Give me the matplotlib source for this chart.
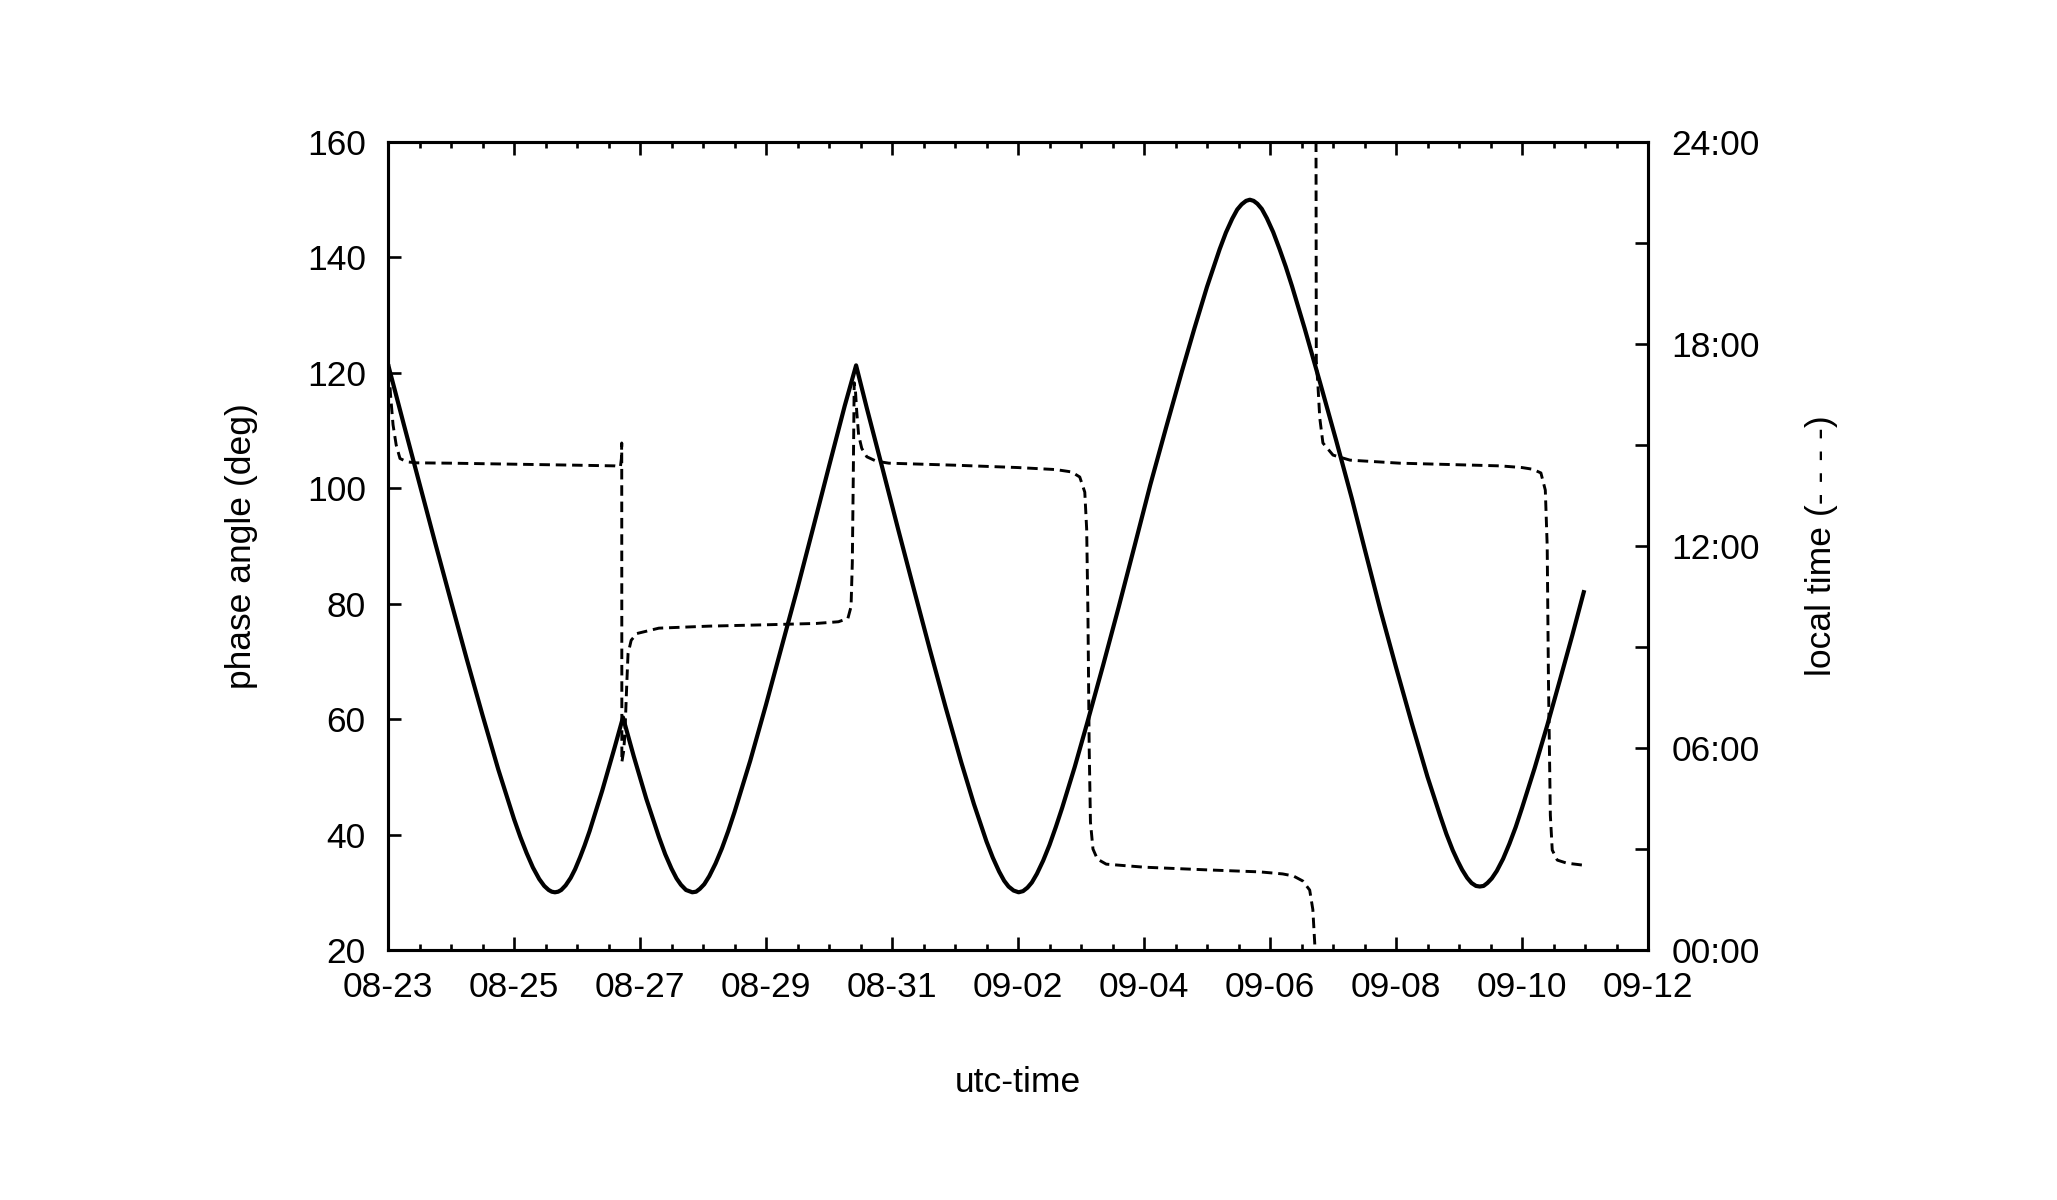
import numpy as np
import pandas as pd
import matplotlib
matplotlib.use('Agg')
import matplotlib.pyplot as plt
import matplotlib.dates as mdates

plt.rcParams['font.family'] = ['Liberation Sans', 'DejaVu Sans']

# ---------------- data ----------------
start_date = '2014-08-23'
end_date = '2014-09-12'

# phase angle (deg) vs days since 2014-08-23 00:00 UTC
phase_days = [0.0, 0.25, 0.5, 0.75, 1.0, 1.25, 1.5, 1.75, 2.0, 2.1, 2.2, 2.3, 2.4, 2.48,
              2.55, 2.6, 2.65, 2.7, 2.75, 2.82, 2.9, 2.97, 3.05, 3.12, 3.2, 3.4, 3.6, 3.73,
              3.9, 4.1, 4.3, 4.4, 4.5, 4.58, 4.65, 4.73, 4.83, 4.89, 4.95, 5.02, 5.1, 5.2,
              5.3, 5.4, 5.5, 5.75, 6.0, 6.25, 6.5, 6.75, 7.0, 7.25, 7.43,
              7.6, 7.85, 8.1, 8.35, 8.6, 8.85, 9.1, 9.3, 9.5, 9.6, 9.7, 9.78, 9.85, 9.93,
              10.01, 10.08, 10.15, 10.22, 10.3, 10.4, 10.5, 10.6, 10.7, 10.9, 11.1, 11.35,
              11.6, 11.85, 12.1, 12.35, 12.6, 12.8, 13.0, 13.2, 13.3, 13.4, 13.48, 13.55,
              13.62, 13.68, 13.74, 13.8, 13.87, 13.95, 14.05, 14.15, 14.25, 14.35, 14.55,
              14.8, 15.05, 15.3, 15.5, 15.75, 16.0, 16.25, 16.5, 16.7, 16.8, 16.9, 16.98,
              17.05, 17.13, 17.2, 17.27, 17.33, 17.39, 17.45, 17.52, 17.6, 17.7, 17.8, 17.9,
              18.0, 18.2, 18.4, 18.6, 18.8, 18.98]
phase_deg = [121.5, 111.1, 100.8, 90.5, 80.4, 70.4, 60.7, 51.3, 42.7, 39.6, 36.8, 34.3, 32.3, 31.1,
             30.4, 30.1, 30.0, 30.1, 30.4, 31.2, 32.5, 34.0, 36.1, 38.1, 40.6, 47.6, 55.2, 60.3,
             53.6, 46.2, 39.6, 36.6, 34.1, 32.4, 31.3, 30.4, 30.0, 30.1, 30.6, 31.4, 32.8, 35.0,
             37.6, 40.6, 43.9, 52.8, 62.5, 72.6, 82.7, 93.2, 103.8, 114.3, 121.3,
             113.9, 103.4, 92.8, 82.4, 72.1, 62.1, 52.5, 45.3, 38.8, 36.0, 33.6, 32.0, 31.0, 30.3,
             30.0, 30.2, 30.8, 31.7, 33.2, 35.5, 38.2, 41.3, 44.6, 51.7, 59.4, 69.3,
             79.5, 90.0, 100.6, 110.5, 120.2, 127.7, 134.9, 141.4, 144.3, 146.7, 148.3, 149.2,
             149.8, 150.0, 149.8, 149.3, 148.4, 146.8, 144.4, 141.5, 138.4, 135.0, 127.7,
             118.1, 108.3, 98.2, 89.6, 79.0, 69.0, 59.3, 50.0, 43.3, 40.1, 37.3, 35.4,
             33.9, 32.5, 31.6, 31.1, 31.0, 31.1, 31.6, 32.4, 33.7, 35.8, 38.4, 41.3,
             44.6, 51.5, 58.9, 66.7, 74.6, 82.0]

# local time (hours) vs days since 2014-08-23 00:00 UTC (NaN = line break at wrap)
lt_days = [0.0, 0.01, 0.04, 0.08, 0.13, 0.19, 0.3, 0.45, 1.0, 2.0, 3.0, 3.6, 3.69,
           3.705, 3.71, 3.712, 3.74, 3.76, 3.79, 3.81, 3.86, 3.95, 4.3, 5.1, 6.0, 6.8,
           7.15, 7.3, 7.35, 7.37, 7.385, 7.40, 7.42, 7.44, 7.47, 7.52, 7.6, 7.75, 7.95,
           9.0, 10.0, 10.6, 10.85, 10.98, 11.06, 11.09, 11.11, 11.13, 11.15, 11.19,
           11.26, 11.4, 12.0, 13.0, 13.84, 14.2, 14.37, 14.52, 14.63, 14.68, 14.71,
           14.72, 14.725, 14.73, 14.735, 14.76, 14.79, 14.84, 15.0, 15.27, 16.06,
           17.65, 18.0, 18.17, 18.3, 18.37, 18.40, 18.42, 18.45, 18.48, 18.56, 18.71, 18.97]
lt_hours = [7.9, 17.4, 16.5, 15.6, 15.0, 14.6, 14.5, 14.47, 14.46, 14.43, 14.4, 14.38, 14.36,
            14.6, 15.06, 5.58, 5.9, 6.4, 7.9, 8.8, 9.2, 9.4, 9.56, 9.62, 9.66, 9.7,
            9.75, 9.85, 10.2, 11.5, 14.0, 16.85, 16.6, 16.0, 15.3, 14.9, 14.65, 14.52, 14.46,
            14.4, 14.33, 14.27, 14.2, 14.05, 13.6, 12.5, 10.0, 6.0, 3.8, 3.0,
            2.7, 2.55, 2.46, 2.38, 2.32, 2.26, 2.2, 2.05, 1.78, 1.2, 0.2,
            -0.5, np.nan, 24.5, 17.5, 16.8, 15.8, 15.06, 14.7, 14.55, 14.46,
            14.38, 14.33, 14.28, 14.17, 13.66, 12.0, 8.0, 4.0, 2.97, 2.67, 2.58, 2.52]

y1_ticks = [20, 40, 60, 80, 100, 120, 140, 160]
y2_ticks = [0, 6, 12, 18, 24]
y2_minor = [3, 9, 15, 21]
y2_labels = ['00:00', '06:00', '12:00', '18:00', '24:00']

# ---------------- plot ----------------
FS = 25.5
fig = plt.figure(figsize=(20.57, 12), dpi=100)
ax = fig.add_axes([388 / 2057, 250 / 1200, 1260 / 2057, 808 / 1200])
ax2 = ax.twinx()

base = pd.Timestamp(start_date)
px = base + pd.to_timedelta(phase_days, unit='D')
lx = base + pd.to_timedelta(lt_days, unit='D')

ax.plot(px, phase_deg, color='black', lw=3.0, solid_joinstyle='round')
ax2.plot(lx, lt_hours, color='black', lw=2.1, linestyle=(0, (3.6, 2.0)))

ax.set_xlim(base, pd.Timestamp(end_date))
ax.set_ylim(20, 160)
ax2.set_ylim(0, 24)

ax.set_xticks(pd.date_range(start_date, end_date, freq='2D'))
ax.set_xticks(pd.date_range(start_date, end_date, freq='12h'), minor=True)
ax.xaxis.set_major_formatter(mdates.DateFormatter('%m-%d'))
ax.set_yticks(y1_ticks)
ax2.set_yticks(y2_ticks)
ax2.set_yticklabels(y2_labels)
ax2.set_yticks(y2_minor, minor=True)

for a in (ax, ax2):
    for s in a.spines.values():
        s.set_linewidth(2.2)

ax.tick_params(axis='x', which='major', direction='in', top=True, bottom=True,
               length=9.4, width=1.9, labelsize=FS, pad=15)
ax.tick_params(axis='x', which='minor', direction='in', top=True, bottom=True,
               length=4.3, width=1.9)
ax.tick_params(axis='y', which='both', direction='in', left=True, right=False,
               length=9.4, width=1.9, labelsize=FS, pad=16)
ax2.tick_params(axis='y', which='both', direction='in', right=True, left=False,
                length=9.4, width=1.9, labelsize=FS, pad=17)

ax.set_xlabel('utc-time', fontsize=FS, labelpad=45)
ax.set_ylabel('phase angle (deg)', fontsize=FS, labelpad=35)
ax2.set_ylabel('local time (- - - -)', fontsize=FS, labelpad=32, rotation=90)

fig.savefig('out.png', dpi=100, facecolor='white')
